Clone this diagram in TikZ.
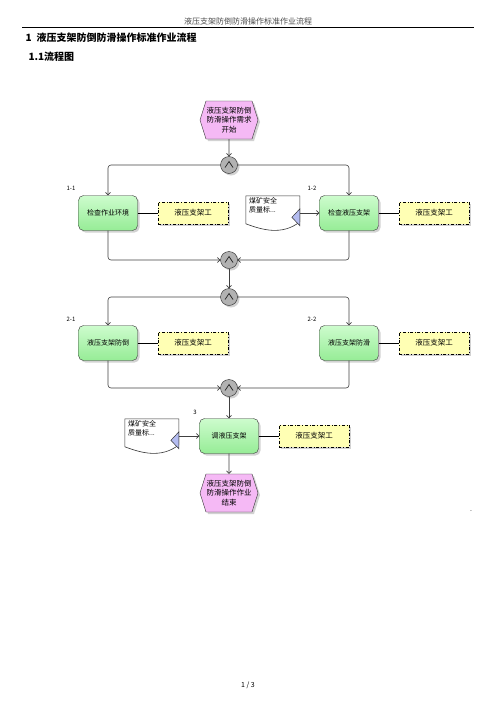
\documentclass[tikz,border=0pt]{standalone}
\usepackage{fontspec}
\setmainfont{Noto Sans CJK SC}
\usetikzlibrary{arrows.meta,positioning,shapes.symbols,shadows}
\definecolor{fntop}{RGB}{205,252,205}
\definecolor{fnbot}{RGB}{150,236,150}
\definecolor{evpink}{RGB}{245,185,245}
\definecolor{rlyel}{RGB}{255,255,180}
\definecolor{trblue}{RGB}{180,188,240}

\begin{document}
\begin{tikzpicture}[x=1pt, y=-1pt, node distance=20pt, >={Straight Barb[length=2.5pt,width=5pt]},
    shd/.style={drop shadow={shadow xshift=2pt, shadow yshift=-2pt, fill=black!35}},
    fn/.style={draw=black!80, rounded corners=5pt, minimum width=59pt, minimum height=35pt,
      inner sep=0pt, top color=fntop, bottom color=fnbot, font=\fontsize{7}{9}\selectfont, shd},
    rl/.style={draw=black, dash dot, line width=0.7pt, fill=rlyel, minimum width=70pt,
      minimum height=22pt, inner sep=0pt, font=\fontsize{7.5}{9}\selectfont, shd},
    ev/.style={signal, signal to=west and east, signal pointer angle=145, draw=black!80,
      fill=evpink, minimum width=58pt, minimum height=38pt, inner sep=0pt, align=center,
      font=\fontsize{7.5}{9.5}\selectfont, shd},
    op/.style={circle, draw=black!85, fill=black!30, minimum size=17pt, inner sep=0pt, shd,
      path picture={\draw[line width=0.7pt] ([xshift=-4pt,yshift=-2.5pt]path picture bounding box.center)
        -- ++(4pt,6pt) -- ++(4pt,-6pt);}},
    dc/.style={minimum width=54pt, minimum height=34pt, inner sep=0pt},
    dct/.style={align=left, inner sep=0pt, font=\fontsize{7}{9}\selectfont},
    lb/.style={font=\fontsize{6}{7}\selectfont},
    fl/.style={draw=black!75, line width=0.6pt, rounded corners=3pt},
    ln/.style={draw=black, line width=0.8pt}]
  \useasboundingbox (0,0) rectangle (496,702);

  % page header
  \node[font=\fontsize{8}{9}\selectfont, text=black!70] (hd) at (248,21) {液压支架防倒防滑操作标准作业流程};
  \draw[line width=1pt] (22,27.5) -- (474,27.5);
  \node[anchor=west, font=\fontsize{10}{12}\bfseries] (h1) at (22,38) {1\hspace{5pt}液压支架防倒防滑操作标准作业流程};
  \node[anchor=west, font=\fontsize{10}{12}\bfseries] (h2) at (25,57) {1.1流程图};

  % events and operators
  \node[ev] (st) at (229,120) {液压支架防倒\\防滑操作需求\\开始};
  \node[op] (c1) at (229,165) {};
  \node[op] (c2) at (229,260) {};
  \node[op] (c3) at (229,297) {};
  \node[op] (c4) at (229,388) {};
  \node[ev] (en) at (229,493) {液压支架防倒\\防滑操作作业\\结束};

  % functions
  \node[fn] (b11) at (108,213) {检查作业环境};
  \node[fn] (b12) at (349,213) {检查液压支架};
  \node[fn] (b21) at (108,343) {液压支架防倒};
  \node[fn] (b22) at (349,343) {液压支架防滑};
  \node[fn] (b3) at (229,436) {调液压支架};

  \node[lb] (l11) at (71,188) {1-1};
  \node[lb] (l12) at (312,188) {1-2};
  \node[lb] (l21) at (71,319) {2-1};
  \node[lb] (l22) at (312,319) {2-2};
  \node[lb] (l3) at (195,412) {3};

  % roles
  \node[rl, right=of b11] (r11) {液压支架工};
  \node[rl, right=of b12] (r12) {液压支架工};
  \node[rl, right=of b21] (r21) {液压支架工};
  \node[rl, right=of b22] (r22) {液压支架工};
  \node[rl, right=of b3] (r3) {液压支架工};

  % documents
  \node[dc, left=19pt of b12] (d12) {};
  \node[dc, left=20pt of b3] (d3) {};
  \node[dct, anchor=north west] (t12) at ([xshift=3pt,yshift=-2pt]d12.north west) {煤矿安全\\质量标...};
  \node[dct, anchor=north west] (t3) at ([xshift=3pt,yshift=-2pt]d3.north west) {煤矿安全\\质量标...};
  \foreach \d in {d12,d3} {
    \draw[black!80, line width=0.6pt, shift={(\d.north west)}]
      (0,0) -- (54,0) -- (54,26) .. controls (36,40) and (16,34) .. (0,28) -- cycle;
    \filldraw[fill=trblue, draw=black!80, line width=0.5pt, shift={(\d.north west)}]
      (54,13) -- (54,30) -- (46,21.5) -- cycle;
  }

  % connectors
  \draw[fl,->] (st) -- (c1);
  \draw[fl,->] (c1) -| (b11);
  \draw[fl,->] (c1) -| (b12);
  \draw[fl,->] (b11) |- (c2);
  \draw[fl,->] (b12) |- (c2);
  \draw[fl,->] (c2) -- (c3);
  \draw[fl,->] (c3) -| (b21);
  \draw[fl,->] (c3) -| (b22);
  \draw[fl,->] (b21) |- (c4);
  \draw[fl,->] (b22) |- (c4);
  \draw[fl,->] (c4) -- (b3);
  \draw[fl,->] (b3) -- (en);
  \draw[fl,->] (d12) -- (b12);
  \draw[fl,->] (d3) -- (b3);
  \draw[ln] (b11) -- (r11);
  \draw[ln] (b12) -- (r12);
  \draw[ln] (b21) -- (r21);
  \draw[ln] (b22) -- (r22);
  \draw[ln] (b3) -- (r3);

  % page footer
  \node[font=\fontsize{7}{8}\selectfont] (dot) at (471,511) {.};
  \node[font=\fontsize{7}{8}\selectfont] (pg) at (248,685) {1 / 3};
\end{tikzpicture}
\end{document}
